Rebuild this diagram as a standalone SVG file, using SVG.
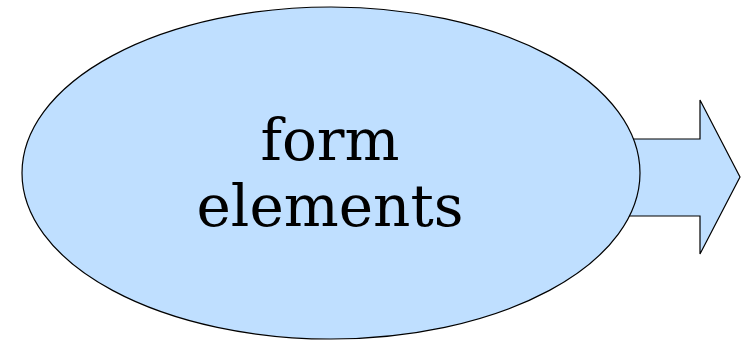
<svg xmlns="http://www.w3.org/2000/svg" width="742" height="340" viewBox="0 0 742 340">
  <style>
    .shape { fill: #bfdfff; stroke: #000; stroke-width: 1.2; }
    .label { font-family: "DejaVu Serif", serif; font-size: 58px; fill: #000; text-anchor: middle; }
  </style>
  <rect width="742" height="340" fill="#fff"/>
  <g id="connectors">
    <path class="shape" d="M600,139 H700 V100 L740,177 L700,254 V216 H600 Z"/>
  </g>
  <g id="form-elements">
    <ellipse class="shape" cx="331" cy="173" rx="309" ry="166"/>
    <text class="label" x="330" y="160">form</text>
    <text class="label" x="330" y="226">elements</text>
  </g>
</svg>
